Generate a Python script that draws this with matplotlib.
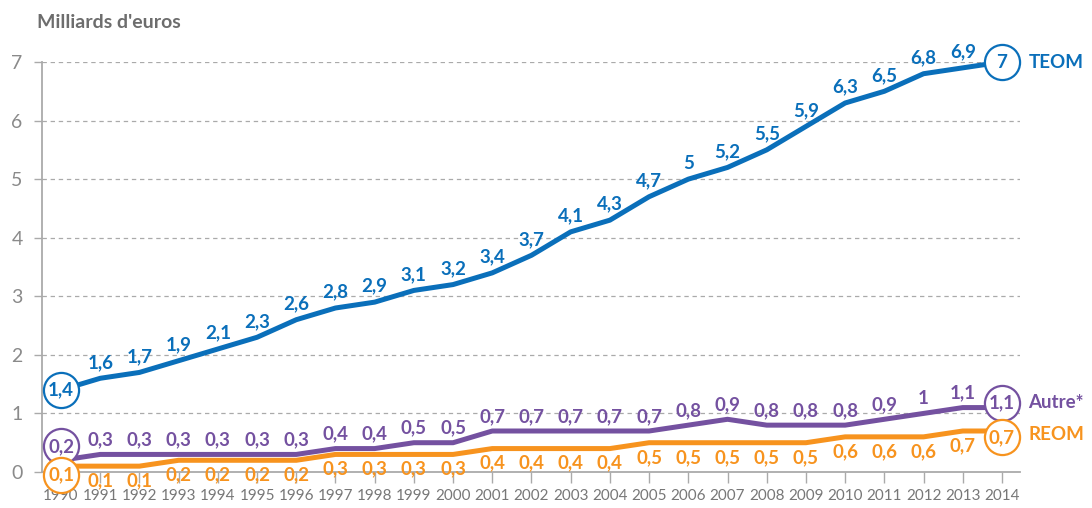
import matplotlib
matplotlib.use("Agg")
import matplotlib.pyplot as plt
from matplotlib.transforms import offset_copy

plt.rcParams['font.family'] = ['Lato', 'DejaVu Sans']

years = list(range(1990, 2015))
teom = [1.4, 1.6, 1.7, 1.9, 2.1, 2.3, 2.6, 2.8, 2.9, 3.1, 3.2, 3.4, 3.7, 4.1,
        4.3, 4.7, 5, 5.2, 5.5, 5.9, 6.3, 6.5, 6.8, 6.9, 7]
autre = [0.2, 0.3, 0.3, 0.3, 0.3, 0.3, 0.3, 0.4, 0.4, 0.5, 0.5, 0.7, 0.7, 0.7,
         0.7, 0.7, 0.8, 0.9, 0.8, 0.8, 0.8, 0.9, 1, 1.1, 1.1]
reom = [0.1, 0.1, 0.1, 0.2, 0.2, 0.2, 0.2, 0.3, 0.3, 0.3, 0.3, 0.4, 0.4, 0.4,
        0.4, 0.5, 0.5, 0.5, 0.5, 0.5, 0.6, 0.6, 0.6, 0.7, 0.7]
names = ["TEOM", "Autre*", "REOM"]

BLUE = "#0a6fba"
PURPLE = "#7451a0"
ORANGE = "#f7931e"
GRAY = "#777777"


def fmt(v):
    return ("%g" % v).replace(".", ",")


fig = plt.figure(figsize=(10.92, 5.08), dpi=100)
ax = fig.add_axes([42 / 1092, 1 - 472 / 508, (1020 - 42) / 1092, (472 - 62) / 508])

# (values, colour, label offset in pt, circle nudges first/last in pt)
series = [(teom, BLUE, 7.5, (0, 0)),
          (autre, PURPLE, 6.5, (10, 3.5)),
          (reom, ORANGE, -14.5, (-6.5, -4.5))]
for vals, col, dy, nudge in series:
    ax.plot(years, vals, color=col, lw=3.6, solid_capstyle="butt", zorder=3, clip_on=False)
    for i, nd in zip((0, len(vals) - 1), nudge):
        tr = offset_copy(ax.transData, fig=fig, x=0, y=nd, units="points")
        ax.scatter(years[i], vals[i], s=640, facecolor="white", edgecolor=col,
                   linewidth=1.6, zorder=4, clip_on=False, transform=tr)
        ax.text(years[i], vals[i], fmt(vals[i]), color=col, fontsize=13.5,
                fontweight="bold", ha="center", va="center", zorder=5, transform=tr)
    for x, v in zip(years[1:-1], vals[1:-1]):
        ax.annotate(fmt(v), (x, v), xytext=(0, dy), textcoords="offset points",
                    ha="center", va="baseline", color=col, fontsize=13.5,
                    fontweight="bold", zorder=5, annotation_clip=False)

# series names at right
for vals, col, name, nd in zip([teom, autre, reom], [BLUE, PURPLE, ORANGE], names, [0, 3.5, -2.5]):
    ax.annotate(name, (years[-1], vals[-1]), xytext=(19, nd), textcoords="offset points",
                ha="left", va="center", color=col, fontsize=13.5, fontweight="bold",
                annotation_clip=False)

ax.set_xlim(1989.515, 2014.46)
ax.set_ylim(0, 7)
ax.set_xticks(years)
ax.set_xticklabels([str(y) for y in years], fontsize=11, color=GRAY)
ax.set_yticks(range(0, 8))
ax.set_yticklabels([str(i) for i in range(0, 8)], fontsize=14, color="#8a8a8a")
ax.tick_params(axis="x", length=8, width=1, color="#aaaaaa", pad=4)
ax.tick_params(axis="y", length=6, width=1, color="#aaaaaa", pad=8)

for s in ("top", "right"):
    ax.spines[s].set_visible(False)
for s in ("left", "bottom"):
    ax.spines[s].set_color("#aaaaaa")
    ax.spines[s].set_linewidth(1.3)

for yv in range(1, 8):
    ax.axhline(yv, color="#aaaaaa", lw=0.9, ls=(0, (3.5, 3)), zorder=1)

fig.text(37 / 1092, 1 - 22 / 508, "Milliards d'euros", fontsize=14, fontweight="bold",
         color="#6d6d6d", ha="left", va="center")

fig.savefig("out.png", dpi=100)
